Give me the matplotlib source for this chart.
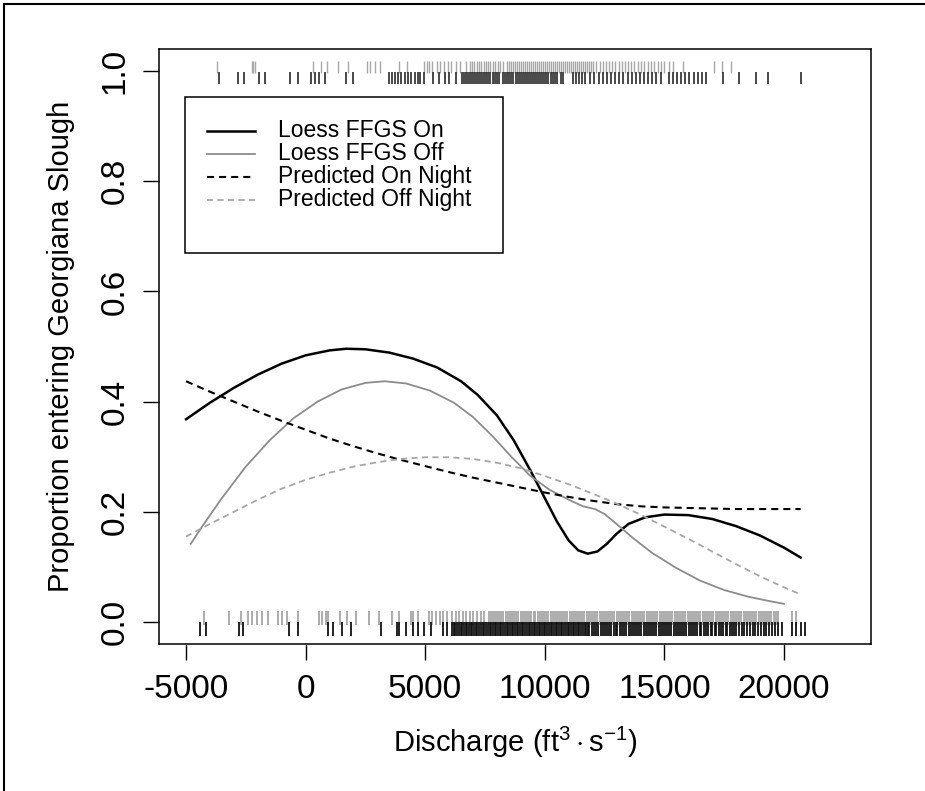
import numpy as np
import matplotlib
matplotlib.use("Agg")
import matplotlib.pyplot as plt
from matplotlib import font_manager
from matplotlib.patches import Rectangle

# R-ish narrow sans for axis text, regular for the legend
names = {f.name for f in font_manager.fontManager.ttflist}
narrow = 'Liberation Sans Narrow' if 'Liberation Sans Narrow' in names else 'Liberation Sans'
plt.rcParams['font.family'] = [narrow, 'DejaVu Sans']
plt.rcParams['mathtext.fontset'] = 'custom'
plt.rcParams['mathtext.rm'] = narrow
plt.rcParams['mathtext.it'] = narrow
plt.rcParams['mathtext.bf'] = narrow

# curves (discharge, proportion)
on_x = [-5000, -4000, -3000, -2000, -1000, 0, 1000, 1700, 2500, 3500, 4500, 5500, 6500, 7200,
        8000, 8700, 9400, 10000, 10500, 11000, 11400, 11800, 12200, 12600, 13000, 13500, 14200,
        15000, 16000, 17000, 18000, 19000, 20000, 20700]
on_y = [0.368, 0.398, 0.425, 0.449, 0.469, 0.484, 0.493, 0.496, 0.495, 0.489, 0.478, 0.462, 0.437, 0.412,
        0.375, 0.330, 0.275, 0.225, 0.183, 0.148, 0.130, 0.124, 0.128, 0.142, 0.160, 0.178, 0.190,
        0.195, 0.194, 0.187, 0.174, 0.157, 0.135, 0.117]

off_x = [-4800, -4300, -3500, -2500, -1500, -500, 500, 1500, 2500, 3300, 4200, 5200, 6200, 7000,
         7800, 8600, 9400, 10200, 11000, 11600, 12100, 12500, 13000, 13700, 14500, 15500, 16500,
         17500, 18500, 19500, 20000]
off_y = [0.142, 0.175, 0.225, 0.282, 0.330, 0.370, 0.400, 0.422, 0.434, 0.437, 0.433, 0.420, 0.398, 0.372,
         0.338, 0.300, 0.265, 0.240, 0.222, 0.210, 0.205, 0.196, 0.178, 0.152, 0.125, 0.098, 0.075,
         0.058, 0.046, 0.037, 0.033]

pred_x = [-5000, -4000, -3000, -2000, -1000, 0, 1000, 2000, 3000, 4000, 5000, 6000, 7000, 8000,
          9000, 10000, 11000, 12000, 13000, 14000, 15000, 16000, 17000, 18000, 19000, 20000, 20700]
pred_on_y = [0.437, 0.418, 0.400, 0.382, 0.365, 0.349, 0.333, 0.319, 0.306, 0.294, 0.283, 0.272, 0.262, 0.253,
             0.244, 0.235, 0.227, 0.220, 0.214, 0.210, 0.208, 0.207, 0.206, 0.205, 0.205, 0.205, 0.205]
pred_off_y = [0.155, 0.178, 0.200, 0.222, 0.242, 0.258, 0.271, 0.282, 0.290, 0.296, 0.299, 0.299, 0.296, 0.289,
              0.279, 0.265, 0.250, 0.233, 0.215, 0.195, 0.173, 0.151, 0.128, 0.105, 0.083, 0.063, 0.050]

# rug: entered Georgiana Slough (top) / did not (bottom), FFGS off (gray) and on (black)
top_off = [-3690, -2230, -2180, -2100, 290, 640, 880, 1340, 1760, 2550, 2700, 2900, 3130, 3920, 4260,
           4970, 5080, 5180, 5300, 5480, 5620, 5800, 5950, 6100, 6280, 6450, 6690, 6870, 6960, 7050,
           7160, 7240, 7330, 7450, 7530, 7640, 7720, 7850, 7930, 8050, 8140, 8270, 8440, 8520, 8600,
           8680, 8770, 8850, 8930, 9010, 9100, 9180, 9260, 9350, 9430, 9510, 9600, 9680, 9760, 9850,
           9930, 10010, 10100, 10180, 10260, 10350, 10430, 10510, 10600, 10680, 10760, 10850, 10930,
           11010, 11100, 11180, 11260, 11350, 11430, 11510, 11600, 11680, 11760, 11850, 11930, 12010,
           12150, 12300, 12420, 12560, 12700, 12830, 12950, 13100, 13220, 13350, 13500, 13620, 13750,
           13900, 14030, 14150, 14300, 14450, 14580, 14720, 14850, 15000, 15200, 15360, 15800, 17090,
           17430, 17800]
top_on = [-3610, -2830, -2570, -1960, -1700, -660, -320, 210, 380, 550, 800, 1670, 2000, 3490, 3600,
          3750, 3870, 4000, 4150, 4300, 4420, 4560, 4680, 4790, 4970, 5310, 5570, 5830, 6010, 6270,
          6530, 6620, 6700, 6790, 6870, 6960, 7040, 7130, 7210, 7300, 7390, 7470, 7560, 7640, 7730,
          7820, 7900, 7990, 8090, 8260, 8350, 8430, 8520, 8600, 8690, 8780, 8860, 8950, 9030, 9120,
          9210, 9290, 9380, 9460, 9550, 9640, 9720, 9810, 9890, 9980, 10070, 10150, 10240, 10330,
          10420, 10510, 10690, 10780, 11200, 11290, 11420, 11560, 11700, 11900, 12070, 12250, 12430,
          12600, 12780, 12940, 13110, 13280, 13460, 13630, 13800, 13980, 14150, 14320, 14500, 14670,
          14840, 15190, 15360, 15540, 15700, 15880, 16050, 16230, 16400, 16580, 16750, 17440, 18140,
          18830, 19350, 20730]
bot_off = [-4240, -3190, -2710, -2420, -2230, -2040, -1840, -1560, -1170, -980, -790, -310, 550, 700,
           850, 940, 1420, 1710, 2090, 2670, 3050, 3620, 3910, 4390, 4490, 4680, 5160, 5300, 5450,
           5600, 5750, 5900, 6120, 6270, 6420, 6570, 6720, 6870, 7020, 7170, 7320, 7470, 7650, 7740,
           7830, 7910, 8000, 8100, 8180, 8270, 8370, 8450, 8540, 8640, 8720, 8810, 8900, 8990, 9080,
           9170, 9260, 9340, 9440, 9530, 9610, 9700, 9800, 9880, 9970, 10060, 10150, 10240, 10330,
           10410, 10500, 10600, 10680, 10770, 10860, 10950, 11040, 11130, 11220, 11300, 11400, 11490,
           11570, 11660, 11750, 11850, 11930, 12020, 12110, 12200, 12290, 12380, 12470, 12560, 12650,
           12740, 12830, 12910, 13000, 13100, 13180, 13270, 13360, 13450, 13540, 13630, 13720, 13810,
           13900, 13990, 14080, 14170, 14260, 14350, 14440, 14530, 14620, 14710, 14800, 14890, 14980,
           15070, 15160, 15250, 15340, 15430, 15520, 15610, 15700, 15790, 15880, 15970, 16060, 16150,
           16240, 16330, 16420, 16510, 16600, 16690, 16780, 16870, 16960, 17050, 17140, 17230, 17320,
           17410, 17500, 17590, 17680, 17770, 17860, 17950, 18040, 18130, 18220, 18310, 18400, 18490,
           18580, 18670, 18760, 18850, 18940, 19030, 19120, 19210, 19300, 19390, 19480, 19570, 19660,
           19740, 20320, 20510]
bot_on = [-4430, -4150, -2800, -2610, -690, -310, 940, 1130, 1510, 1900, 3140, 3820, 3910, 4200, 4490,
          4680, 4970, 5250, 5730, 5900, 6120, 6190, 6260, 6340, 6400, 6480, 6550, 6610, 6690, 6760,
          6830, 6910, 6970, 7050, 7120, 7180, 7260, 7330, 7400, 7470, 7550, 7610, 7690, 7760, 7820,
          7900, 7970, 8040, 8110, 8190, 8250, 8320, 8400, 8470, 8530, 8610, 8680, 8750, 8830, 8890,
          8960, 9040, 9110, 9170, 9250, 9320, 9390, 9460, 9540, 9600, 9670, 9750, 9820, 9880, 9960,
          10030, 10100, 10170, 10250, 10310, 10380, 10460, 10530, 10590, 10670, 10740, 10810, 10880,
          10960, 11020, 11090, 11170, 11240, 11300, 11380, 11450, 11520, 11590, 11670, 11730, 11800,
          11870, 11980, 12060, 12150, 12230, 12340, 12420, 12500, 12610, 12690, 12770, 12880, 12960,
          13040, 13150, 13230, 13320, 13400, 13510, 13590, 13670, 13780, 13860, 13950, 14030, 14140,
          14220, 14300, 14410, 14490, 14580, 14660, 14770, 14850, 14930, 15040, 15120, 15210, 15290,
          15400, 15480, 15560, 15670, 15750, 15840, 15920, 16030, 16110, 16190, 16300, 16380, 16470,
          16550, 16660, 16740, 16820, 16930, 17010, 17100, 17180, 17290, 17370, 17450, 17560, 17640,
          17730, 17810, 17920, 18000, 18120, 18250, 18330, 18460, 18590, 18700, 18780, 18910, 19040,
          19150, 19260, 19380, 19500, 19620, 19740, 19940, 20320, 20510, 20700, 20890]

xticks = [-5000, 0, 5000, 10000, 15000, 20000]
yticks = [0.0, 0.2, 0.4, 0.6, 0.8, 1.0]
labels = ["Loess FFGS On", "Loess FFGS Off", "Predicted On Night", "Predicted Off Night"]

GRAY = '#8c8c8c'
LGRAY = '#a6a6a6'
dash = (0, (3.4, 2.4))

fig = plt.figure(figsize=(9.25, 7.91), dpi=100)
ax = fig.add_axes([0.1719, 0.1858, 0.7697, 0.7522])

# rug marks
ax.plot(top_off, np.full(len(top_off), 1.008), ls='none', marker='|', ms=9, mew=1.0, color='#a8a8a8')
ax.plot(top_on, np.full(len(top_on), 0.987), ls='none', marker='|', ms=9, mew=1.2, color='#2a2a2a')
ax.plot(bot_off, np.full(len(bot_off), 0.007), ls='none', marker='|', ms=10, mew=1.2, color='#a0a0a0')
ax.plot(bot_on, np.full(len(bot_on), -0.013), ls='none', marker='|', ms=10, mew=1.3, color='#111111')

# curves
ax.plot(on_x, on_y, color='black', lw=1.8)
ax.plot(off_x, off_y, color=GRAY, lw=1.3)
ax.plot(pred_x, pred_on_y, color='black', lw=1.5, ls=dash)
ax.plot(pred_x, pred_off_y, color=LGRAY, lw=1.3, ls=dash)

ax.set_xlim(-6130, 23640)
ax.set_ylim(-0.04, 1.04)
ax.set_xticks(xticks)
ax.set_xticklabels([str(t) for t in xticks])
ax.set_yticks(yticks)
ax.set_yticklabels(["%.1f" % t for t in yticks])
ax.tick_params(axis='both', direction='out', length=11.5, width=1.0, labelsize=24)
ax.tick_params(axis='x', pad=10)
ax.tick_params(axis='y', pad=9, labelrotation=90)
for lab in ax.get_yticklabels():
    lab.set_va('center')
for s in ax.spines.values():
    s.set_linewidth(1.1)

ax.set_xlabel(r'Discharge (ft$^{3}\cdot$s$^{-1}$)', fontsize=21)
ax.xaxis.set_label_coords(0.5, -0.135)
ax.set_ylabel('Proportion entering Georgiana Slough', fontsize=21)
ax.yaxis.set_label_coords(-0.118, 0.5)

# legend box drawn by hand (R legend layout)
ax.add_patch(Rectangle((0.0365, 0.657), 0.4465, 0.262, transform=ax.transAxes,
                       fill=False, ec='black', lw=1.1, zorder=5))
styles = [dict(color='black', lw=1.8), dict(color=GRAY, lw=1.3),
          dict(color='black', lw=1.5, ls=dash), dict(color=LGRAY, lw=1.3, ls=dash)]
rows = [0.8625, 0.8238, 0.7851, 0.7464]
for lab, st, yy in zip(labels, styles, rows):
    ax.plot([0.0674, 0.1348], [yy, yy], transform=ax.transAxes, **st)
    ax.text(0.1671, yy, lab, transform=ax.transAxes, va='center', ha='left',
            fontsize=16.5, family=['Liberation Sans', 'DejaVu Sans'])

# outer frame (top and left edges of the cropped figure)
fig.add_artist(plt.Line2D([4 / 925, 1], [1 - 4 / 791, 1 - 4 / 791], color='black', lw=1.5))
fig.add_artist(plt.Line2D([4 / 925, 4 / 925], [0, 1 - 4 / 791], color='black', lw=1.5))

fig.savefig('out.png', dpi=100)
